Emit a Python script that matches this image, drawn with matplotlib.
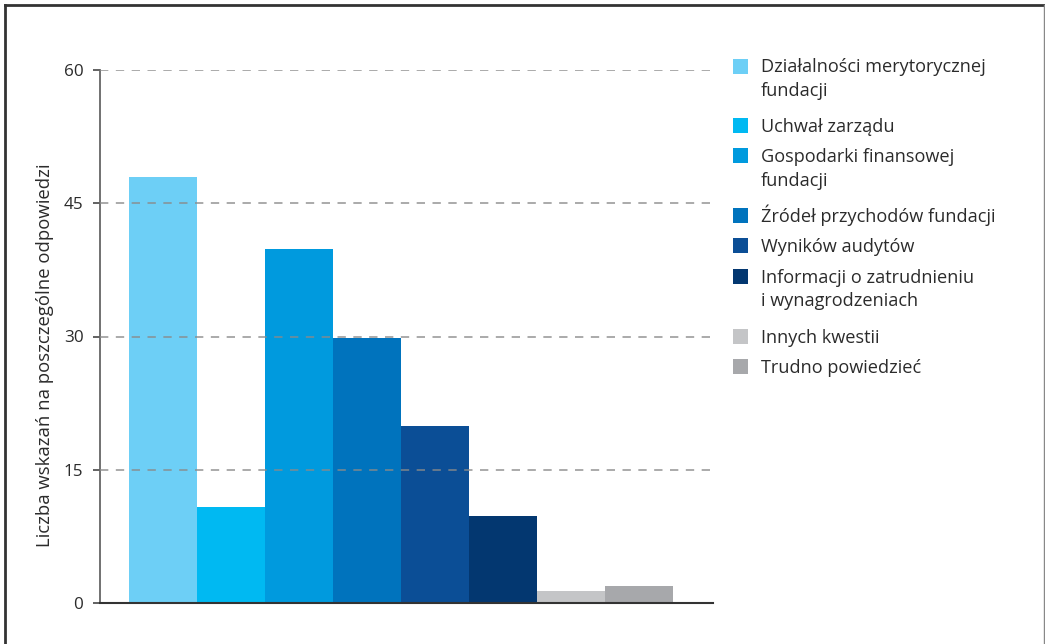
import matplotlib
matplotlib.use("Agg")
import matplotlib.pyplot as plt
from matplotlib.lines import Line2D
from matplotlib.patches import Rectangle

categories = [
    "Działalności merytorycznej\nfundacji",
    "Uchwał zarządu",
    "Gospodarki finansowej\nfundacji",
    "Źródeł przychodów fundacji",
    "Wyników audytów",
    "Informacji o zatrudnieniu\ni wynagrodzeniach",
    "Innych kwestii",
    "Trudno powiedzieć",
]
values = [48, 10.8, 39.8, 29.8, 19.9, 9.8, 1.4, 1.9]
colors = ["#6dcff6", "#00b9f2", "#009ade", "#0073bd", "#0b4e96", "#033770", "#c4c5c7", "#a7a8ab"]
yticks = [0, 15, 30, 45, 60]
ylabel = "Liczba wskazań na poszczególne odpowiedzi"

W, H = 1045, 644
plt.rcParams['font.family'] = ['Open Sans', 'DejaVu Sans']
fig = plt.figure(figsize=(W / 100, H / 100), dpi=100)
fig.patch.set_facecolor("white")

def fx(px):
    return px / W

def fy(py):
    return 1 - py / H

TXT = "#2b2b2b"
ax_l, ax_r, ax_t, ax_b = 100, 713, 70, 603
ax = fig.add_axes([fx(ax_l), fy(ax_b), fx(ax_r - ax_l), (ax_b - ax_t) / H])

x = list(range(len(values)))
ax.bar(x, values, width=1.0, color=colors, zorder=2, linewidth=0)
ax.set_xlim(-0.926, 8.088)
ax.set_ylim(0, 60)
ax.set_yticks(yticks)
ax.set_yticklabels([str(t) for t in yticks], fontsize=12.3, color=TXT)
ax.set_xticks([])
for t in yticks[1:]:
    ax.axhline(t, color="#8a8a8a", lw=1.2, ls=(0, (5, 4.5)), alpha=0.85, zorder=3)
ax.tick_params(axis="y", length=5, width=1.3, color="#555555", pad=7)
for s in ["top", "right"]:
    ax.spines[s].set_visible(False)
ax.spines["left"].set_color("#666666")
ax.spines["left"].set_linewidth(1.3)
ax.spines["bottom"].set_color("#333333")
ax.spines["bottom"].set_linewidth(1.5)

fig.text(fx(45), fy(355), ylabel, rotation=90, ha="center", va="center",
         fontsize=13.3, color=TXT)

# legend
base = 72.5
for lab, c in zip(categories, colors):
    fig.patches.append(Rectangle((fx(733), fy(base + 1)), fx(15), 15 / H,
                                 transform=fig.transFigure, facecolor=c, edgecolor="none"))
    lines = lab.split("\n")
    for i, ln in enumerate(lines):
        fig.text(fx(761), fy(base + i * 23.3), ln, ha="left", va="baseline",
                 fontsize=13.1, color=TXT)
    base += 29 * len(lines) + 1.5

# frame
fig.add_artist(Line2D([fx(5), fx(5)], [fy(5), 0], color="#333333", lw=2))
fig.add_artist(Line2D([fx(5), fx(1044)], [fy(5), fy(5)], color="#333333", lw=2))
fig.add_artist(Line2D([fx(1044), fx(1044)], [fy(5), 0], color="#888888", lw=1))

fig.savefig("out.png", dpi=100)
